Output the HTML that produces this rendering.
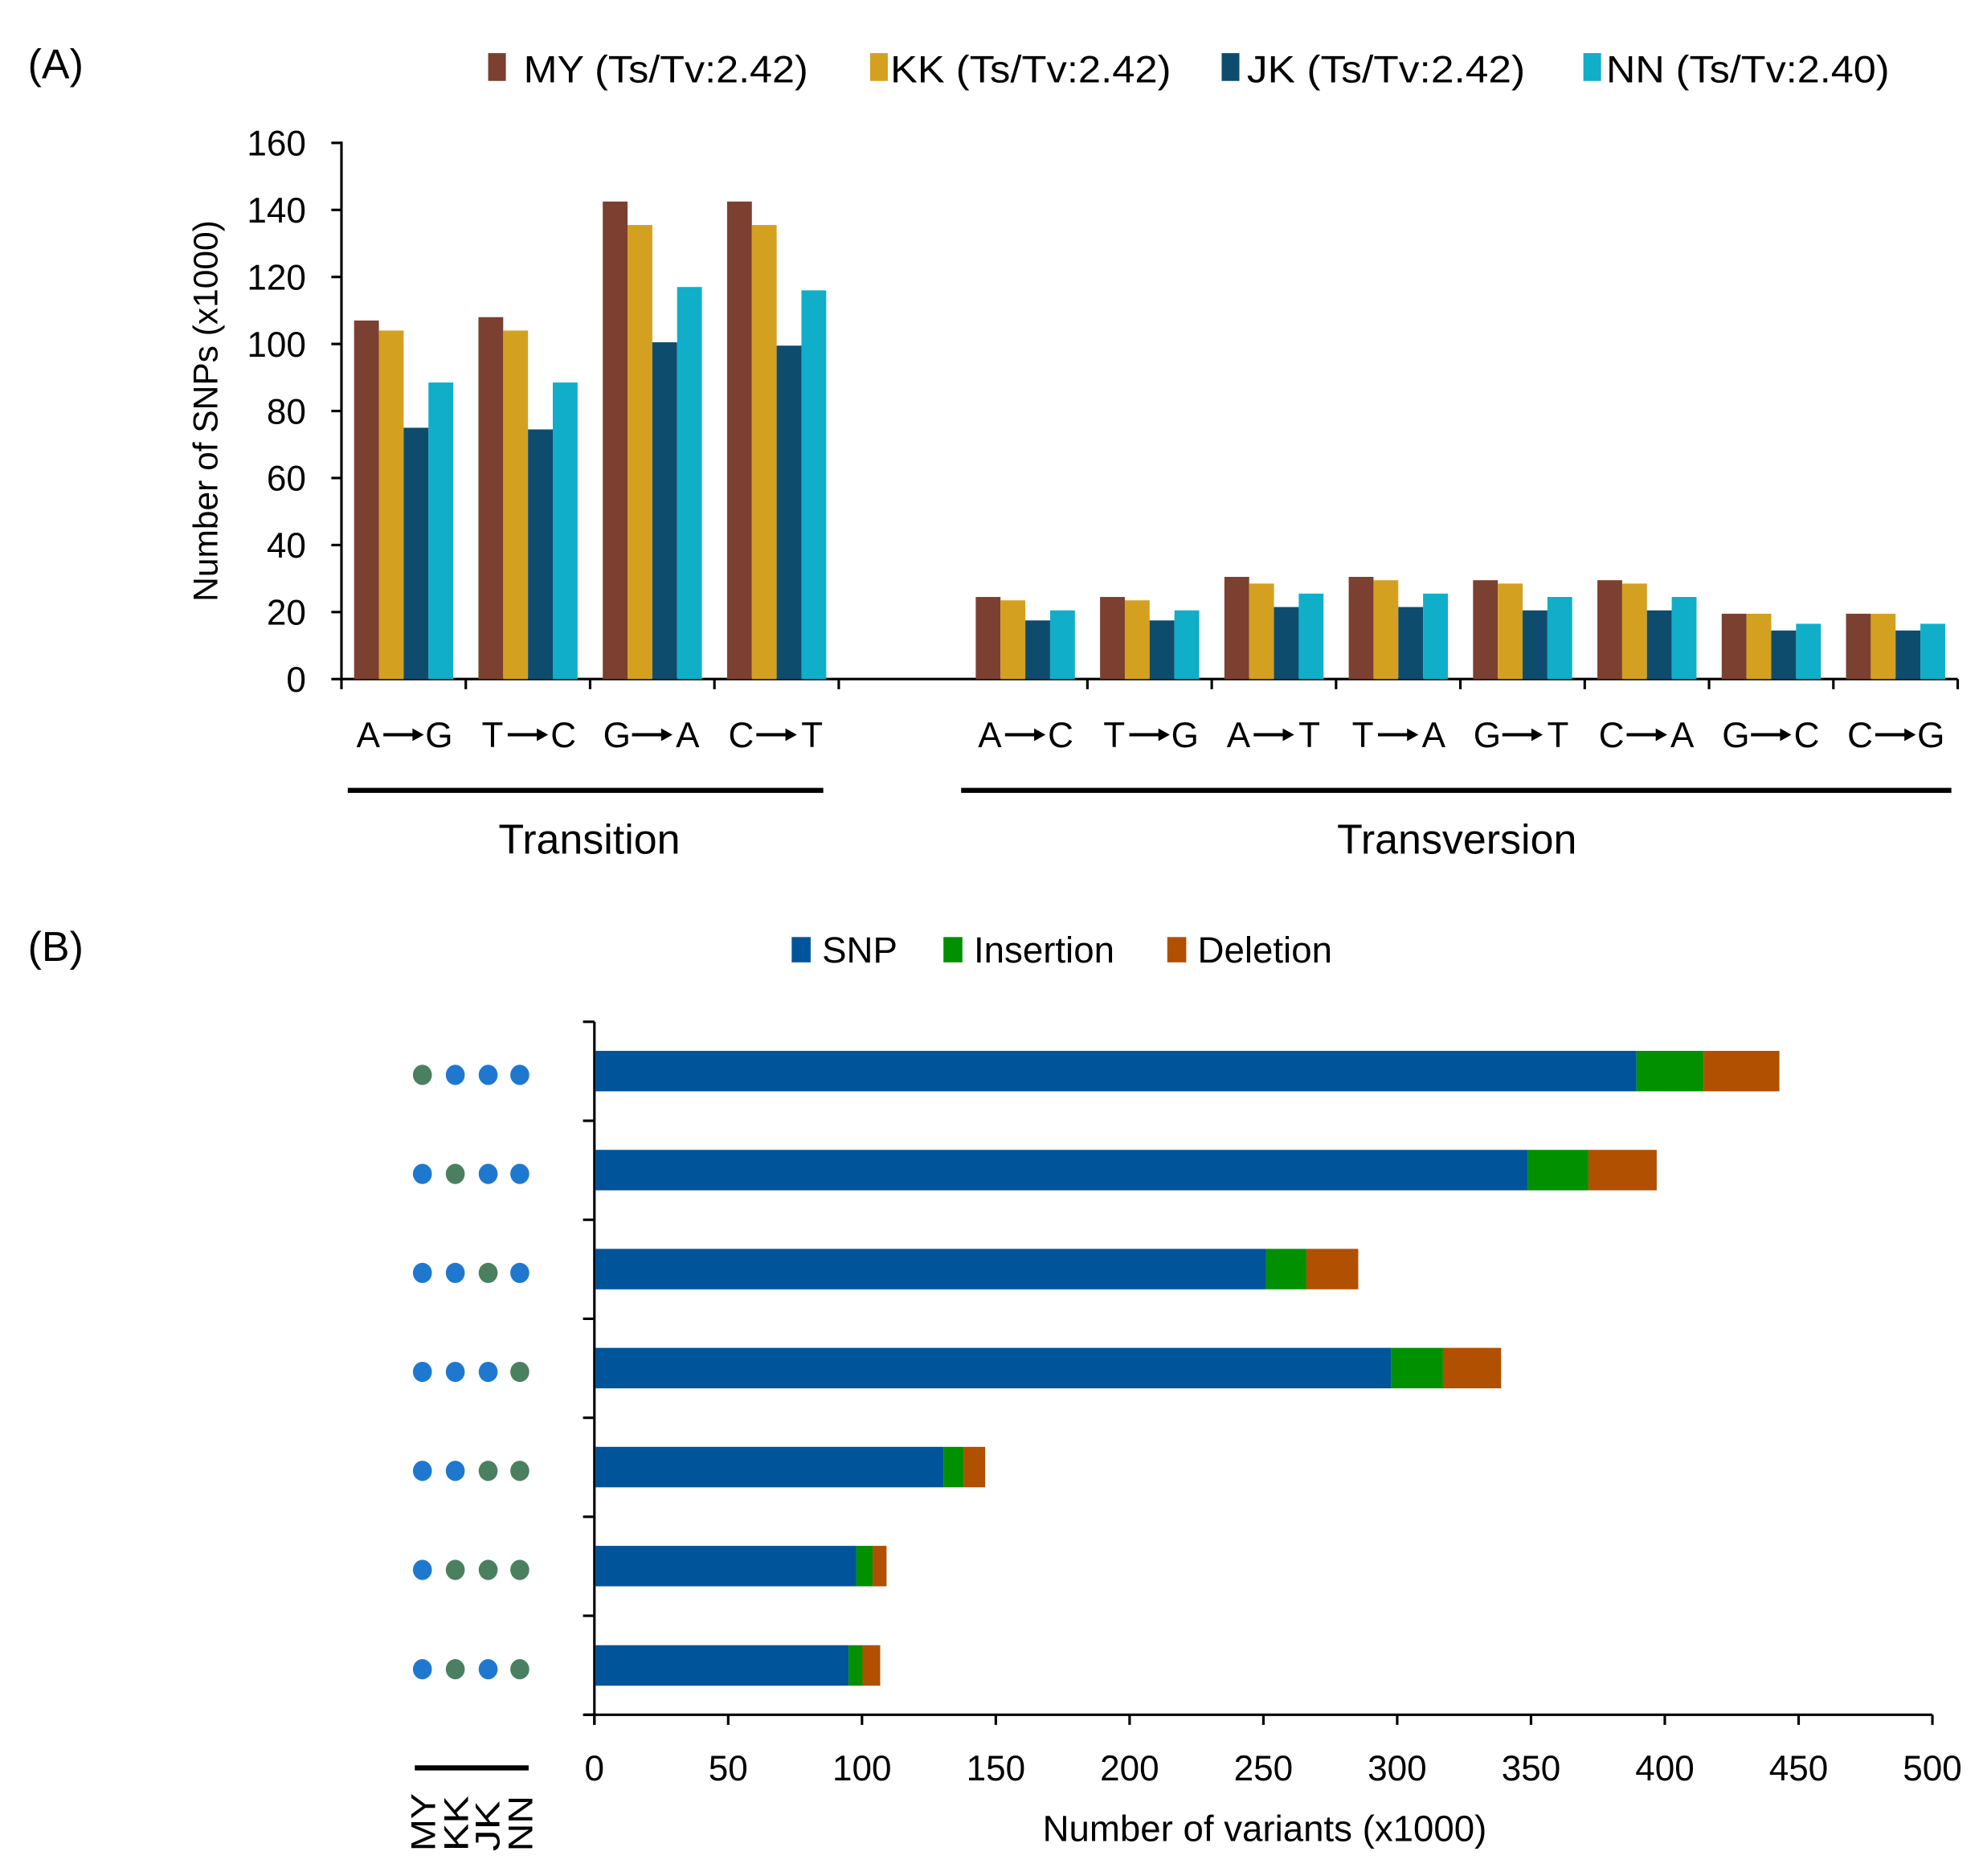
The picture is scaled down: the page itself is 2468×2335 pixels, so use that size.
<!DOCTYPE html>
<html><head><meta charset="utf-8"><style>html,body{margin:0;padding:0;background:#fff}svg{display:block}</style></head>
<body>
<svg width="2468" height="2335" viewBox="0 0 1568 1483.5" xmlns="http://www.w3.org/2000/svg" font-family="Liberation Sans, sans-serif">
<rect width="1568" height="1484" fill="#fff"/>
<text x="22" y="62" font-size="33">(A)</text>
<text x="22" y="760" font-size="33">(B)</text>
<g font-size="30">
<rect x="386" y="42" width="14" height="22" fill="#7B4030"/><text x="414" y="65" textLength="225" lengthAdjust="spacingAndGlyphs">MY (Ts/Tv:2.42)</text>
<rect x="688" y="42" width="14" height="22" fill="#D4A020"/><text x="704" y="65" textLength="222" lengthAdjust="spacingAndGlyphs">KK (Ts/Tv:2.42)</text>
<rect x="966" y="42" width="14" height="22" fill="#0E4C6E"/><text x="986" y="65" textLength="220" lengthAdjust="spacingAndGlyphs">JK (Ts/Tv:2.42)</text>
<rect x="1252" y="42" width="14" height="22" fill="#10AEC8"/><text x="1270" y="65" textLength="224" lengthAdjust="spacingAndGlyphs">NN (Ts/Tv:2.40)</text>
</g>
<g stroke="#000" stroke-width="2">
<line x1="270" y1="112" x2="270" y2="538"/>
<line x1="270" y1="537" x2="1548" y2="537"/>
<line x1="262" y1="537" x2="270" y2="537"/><line x1="262" y1="484" x2="270" y2="484"/><line x1="262" y1="431" x2="270" y2="431"/><line x1="262" y1="378" x2="270" y2="378"/><line x1="262" y1="325" x2="270" y2="325"/><line x1="262" y1="272" x2="270" y2="272"/><line x1="262" y1="219" x2="270" y2="219"/><line x1="262" y1="166" x2="270" y2="166"/><line x1="262" y1="113" x2="270" y2="113"/>
</g>
<g font-size="28" text-anchor="end">
<text x="242" y="547">0</text><text x="242" y="494">20</text><text x="242" y="441">40</text><text x="242" y="388">60</text><text x="242" y="335">80</text><text x="242" y="282">100</text><text x="242" y="229">120</text><text x="242" y="176">140</text><text x="242" y="123">160</text>
</g>
<text transform="translate(172,325) rotate(-90)" font-size="27" text-anchor="middle">Number of SNPs (x1000)</text>
<g id="bars"></g>
<g stroke="#000" stroke-width="4">
<line x1="275" y1="625" x2="651" y2="625"/><line x1="760" y1="625" x2="1543" y2="625"/>
</g>
<text x="466" y="675" font-size="33" text-anchor="middle">Transition</text>
<text x="1152" y="675" font-size="33" text-anchor="middle">Transversion</text>
<g font-size="29">
<rect x="626" y="741" width="15" height="20" fill="#00549A"/><text x="650" y="761">SNP</text>
<rect x="746" y="741" width="15" height="20" fill="#009000"/><text x="770" y="761">Insertion</text>
<rect x="923" y="741" width="15" height="20" fill="#B05000"/><text x="947" y="761">Deletion</text>
</g>
<g id="b"></g>
<g stroke="#000" stroke-width="4"><line x1="328" y1="1398" x2="418" y2="1398"/></g>
<g font-size="27">
<text transform="translate(344,1464) rotate(-90)" textLength="46" lengthAdjust="spacingAndGlyphs">MY</text>
<text transform="translate(370,1464) rotate(-90)" textLength="44" lengthAdjust="spacingAndGlyphs">KK</text>
<text transform="translate(395,1464) rotate(-90)" textLength="40" lengthAdjust="spacingAndGlyphs">JK</text>
<text transform="translate(421,1464) rotate(-90)" textLength="44" lengthAdjust="spacingAndGlyphs">NN</text>
</g>
<text x="1000" y="1456" font-size="29" text-anchor="middle">Number of variants (x1000)</text>
<script>
var ns="http://www.w3.org/2000/svg",svg=document.querySelector('svg');
function el(t,a,p){var e=document.createElementNS(ns,t);for(var k in a)e.setAttribute(k,a[k]);(p||svg).appendChild(e);return e;}
var cols=["#7B4030","#D4A020","#0E4C6E","#10AEC8"];
var cats=[["A","G",[107,104,75,88.5]],["T","C",[108,104,74.5,88.5]],["G","A",[142.5,135.5,100.5,117]],["C","T",[142.5,135.5,99.5,116]],null,
["A","C",[24.5,23.5,17.5,20.5]],["T","G",[24.5,23.5,17.5,20.5]],["A","T",[30.5,28.5,21.5,25.5]],["T","A",[30.5,29.5,21.5,25.5]],["G","T",[29.5,28.5,20.5,24.5]],["C","A",[29.5,28.5,20.5,24.5]],["G","C",[19.5,19.5,14.5,16.5]],["C","G",[19.5,19.5,14.5,16.5]]];
var sw=(1548-270)/13,g=document.getElementById('bars');
for(var i=0;i<=13;i++){var x=270+i*sw;if(i!=5)el('line',{x1:x,y1:537,x2:x,y2:545,stroke:'#000','stroke-width':2});}
cats.forEach(function(c,i){if(!c)return;var x0=270+i*sw,cx=x0+sw/2;
c[2].forEach(function(v,j){var h=v*2.65;el('rect',{x:x0+10+j*19.6,y:537-h,width:19.6,height:h,fill:cols[j]},g);});
var t=el('text',{x:cx-28,y:591,'font-size':28,'text-anchor':'middle'});t.textContent=c[0];
t=el('text',{x:cx+28,y:591,'font-size':28,'text-anchor':'middle'});t.textContent=c[1];
el('line',{x1:cx-16,y1:581,x2:cx+10,y2:581,stroke:'#000','stroke-width':2.5});
el('path',{d:'M'+(cx+16)+' 581 L'+(cx+7)+' 576 L'+(cx+7)+' 586 Z',fill:'#000'});
});
var b=document.getElementById('b');
el('line',{x1:470,y1:808,x2:470,y2:1364,stroke:'#000','stroke-width':2},b);
el('line',{x1:462,y1:1356,x2:1528,y2:1356,stroke:'#000','stroke-width':2},b);
for(var k=0;k<8;k++){var y=808+k*(548/7);el('line',{x1:461,y1:y,x2:470,y2:y,stroke:'#000','stroke-width':2},b);}
for(var k=0;k<=10;k++){var x=470+k*105.8;el('line',{x1:x,y1:1356,x2:x,y2:1364,stroke:'#000','stroke-width':2},b);
var t=el('text',{x:x,y:1408,'font-size':28,'text-anchor':'middle'},b);t.textContent=k*50;}
var rows=[[1294,1347,1407,[1,0,0,0]],[1208,1256,1310,[0,1,0,0]],[1001,1033,1074,[0,0,1,0]],[1100,1141,1187,[0,0,0,1]],[746,762,779,[0,0,1,1]],[677,690,701,[0,1,1,1]],[671,682,696,[0,1,0,1]]];
rows.forEach(function(r,i){var cy=847+i*(548/7);if(i==6)cy=1317;
el('rect',{x:471,y:cy-16,width:r[0]-471,height:32,fill:'#00549A'},b);
el('rect',{x:r[0],y:cy-16,width:r[1]-r[0],height:32,fill:'#009000'},b);
el('rect',{x:r[1],y:cy-16,width:r[2]-r[1],height:32,fill:'#B05000'},b);
[334,360,386,411].forEach(function(x,j){el('ellipse',{cx:x,cy:cy+3,rx:7.5,ry:8,fill:r[3][j]?'#4A8060':'#1F78D0'},b);});});
</script>
</svg>
</body></html>
